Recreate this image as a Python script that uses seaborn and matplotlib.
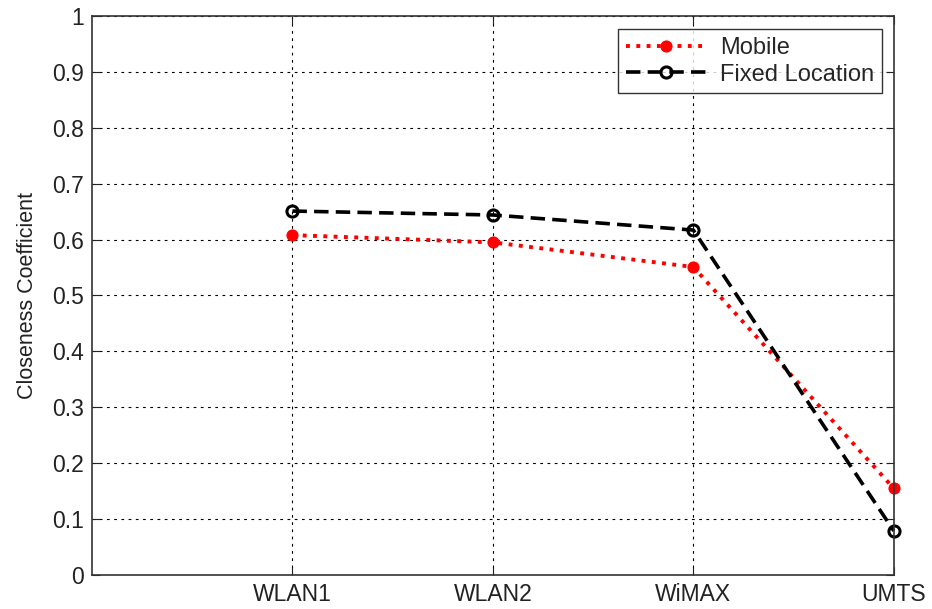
import matplotlib
matplotlib.use("Agg")
import matplotlib.pyplot as plt
import pandas as pd
import seaborn as sns

# Data
networks = ["WLAN1", "WLAN2", "WiMAX", "UMTS"]
mobile = [0.608, 0.595, 0.551, 0.155]
fixed_location = [0.651, 0.644, 0.617, 0.079]

positions = list(range(1, len(networks) + 1))
df = pd.DataFrame({"pos": positions, "Mobile": mobile, "Fixed Location": fixed_location})

sns.set_theme(style="white")
plt.rcParams["font.family"] = ["Liberation Sans", "DejaVu Sans"]

fig = plt.figure(figsize=(9.32, 6.09), dpi=100)
ax = fig.add_axes([0.0987, 0.0558, 0.8603, 0.918])

sns.lineplot(data=df, x="pos", y="Mobile", ax=ax, color="red", linestyle=":",
             linewidth=2.8, marker="o", markersize=8, markerfacecolor="red",
             markeredgecolor="red", label="Mobile", clip_on=False)
sns.lineplot(data=df, x="pos", y="Fixed Location", ax=ax, color="black",
             linestyle=(0, (4, 2.0)), linewidth=2.6, marker="o", markersize=8,
             markerfacecolor="none", markeredgecolor="black", markeredgewidth=2.2,
             label="Fixed Location", clip_on=False)

ax.set_xlim(0, 4)
ax.set_ylim(0, 1)
ax.set_xticks(positions)
ax.set_xticklabels(networks)
ax.set_yticks([i / 10 for i in range(11)])
ax.set_yticklabels(["0", "0.1", "0.2", "0.3", "0.4", "0.5", "0.6", "0.7", "0.8", "0.9", "1"])
ax.set_xlabel("")
ax.set_ylabel("Closeness Coefficient", fontsize=15.5, color="#222222", labelpad=10)

ax.grid(True, color="black", linestyle=(0, (2.5, 4)), linewidth=0.8)
ax.tick_params(axis="both", direction="in", length=6, width=0.8, labelsize=16.5,
               colors="#222222", left=True, bottom=True, right=True, top=True,
               labelright=False, labeltop=False, pad=6)
for spine in ax.spines.values():
    spine.set_color("#333333")
    spine.set_linewidth(1.2)

leg = ax.legend(loc="upper right", bbox_to_anchor=(0.985, 0.976), fontsize=17,
                frameon=True, fancybox=False, edgecolor="black", handlelength=3.4,
                handletextpad=0.6, borderpad=0.32, labelspacing=0.2, borderaxespad=0)
leg.get_frame().set_linewidth(1.0)

fig.savefig("out.png", dpi=100)
